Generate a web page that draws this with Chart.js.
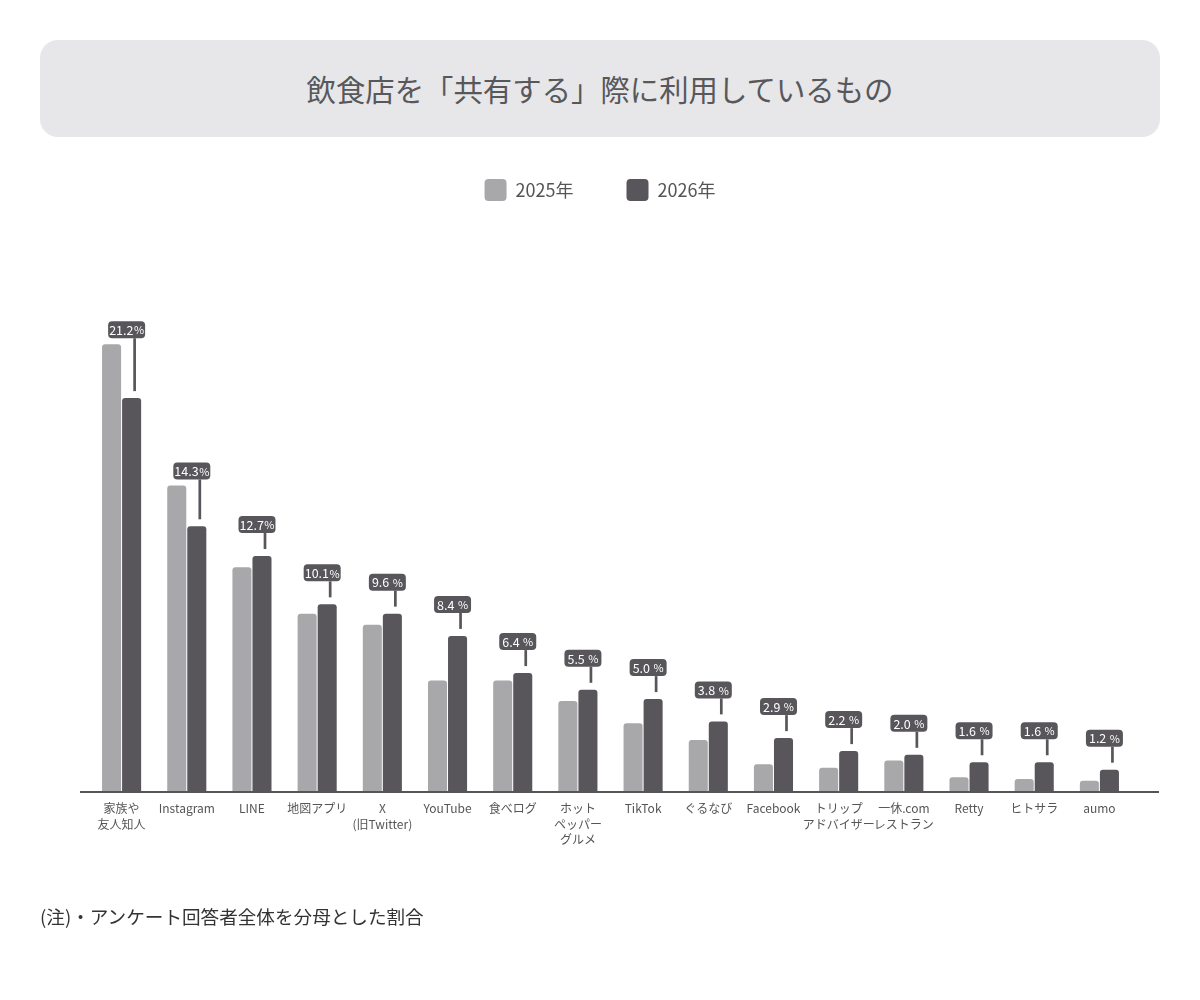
<!DOCTYPE html>
<html><head><meta charset="utf-8">
<script src="https://cdn.jsdelivr.net/npm/chart.js@4.4.1/dist/chart.umd.min.js"></script>
<style>
html,body{margin:0;padding:0;background:#fff;}
body{width:1200px;height:1000px;position:relative;overflow:hidden;font-family:"Noto Sans CJK JP","Noto Sans",sans-serif;}
#wrap{position:absolute;left:0;top:0;width:1200px;height:1000px;}
#title{position:absolute;left:40px;top:40px;width:1120px;height:97px;border-radius:18px;background:#e7e6e9;color:#58585a;font-size:29.4px;line-height:97px;text-align:center;}
#note{position:absolute;left:40px;top:902px;font-size:18.6px;color:#333;line-height:28px;}
</style></head>
<body>
<div id="wrap"><canvas id="c"></canvas></div>
<div id="title">飲食店を「共有する」際に利用しているもの</div>
<div id="note">(注)・アンケート回答者全体を分母とした割合</div>
<script>
const categories = [['家族や','友人知人'],'Instagram','LINE','地図アプリ',['X','(旧Twitter)'],'YouTube','食べログ',['ホット','ペッパー','グルメ'],'TikTok','ぐるなび','Facebook',['トリップ','アドバイザー'],['一休.com','レストラン'],'Retty','ヒトサラ','aumo'];
const seriesNames = ['2025年','2026年'];
const values2025 = [24.1,16.5,12.1,9.6,9.0,6.0,6.0,4.9,3.7,2.8,1.5,1.3,1.7,0.8,0.7,0.6];
const values2026 = [21.2,14.3,12.7,10.1,9.6,8.4,6.4,5.5,5.0,3.8,2.9,2.2,2.0,1.6,1.6,1.2];

const LIGHT = '#a8a7aa';
const DARK = '#58565a';
const FONT = '"Noto Sans CJK JP", "Noto Sans", sans-serif';

const legendCenterPlugin = {
  id: 'legendCenter',
  afterLayout(chart) {
    const lg = chart.legend;
    if (!lg) return;
    const shift = chart.width / 2 - (lg.left + lg.right) / 2;
    lg.left += shift;
    lg.right += shift;
  }
};

const calloutPlugin = {
  id: 'callout',
  afterDatasetsDraw(chart) {
    const {ctx, chartArea} = chart;
    const m0 = chart.getDatasetMeta(0), m1 = chart.getDatasetMeta(1);
    ctx.save();
    ctx.strokeStyle = '#555457';
    ctx.lineWidth = 2;
    ctx.beginPath();
    ctx.moveTo(chartArea.left - 9, chartArea.bottom);
    ctx.lineTo(chartArea.right + 27, chartArea.bottom);
    ctx.stroke();
    values2026.forEach((v, i) => {
      const b1 = m1.data[i], b0 = m0.data[i];
      const boxH = 17, boxW = 37;
      const boxBottom = Math.min(b1.y - 23, b0.y - 6);
      const cx = b1.x - 5;
      ctx.strokeStyle = DARK;
      ctx.lineWidth = 2.7;
      ctx.beginPath();
      ctx.moveTo(b1.x + 3, boxBottom);
      ctx.lineTo(b1.x + 3, b1.y - 7);
      ctx.stroke();
      ctx.fillStyle = DARK;
      ctx.beginPath();
      ctx.roundRect(cx - boxW / 2, boxBottom - boxH, boxW, boxH, 4);
      ctx.fill();
      const num = v.toFixed(1);
      const sep = v >= 10 ? 0.5 : 3.5;
      ctx.font = '12.5px ' + FONT;
      const wn = ctx.measureText(num).width;
      ctx.font = '11px ' + FONT;
      const wp = ctx.measureText('%').width;
      const total = wn + sep + wp;
      const x = cx - total / 2;
      const ty = boxBottom - boxH / 2 + 0.5;
      ctx.fillStyle = '#ffffff';
      ctx.textBaseline = 'middle';
      ctx.textAlign = 'left';
      ctx.font = '12.5px ' + FONT;
      ctx.fillText(num, x, ty);
      ctx.font = '11px ' + FONT;
      ctx.fillText('%', x + wn + sep, ty);
    });
    ctx.restore();
  }
};

new Chart(document.getElementById('c'), {
  type: 'bar',
  data: {
    labels: categories,
    datasets: [
      { label: seriesNames[0], data: values2025, backgroundColor: LIGHT, borderWidth: 0, borderRadius: 3,
        categoryPercentage: 0.615, barPercentage: 0.95 },
      { label: seriesNames[1], data: values2026, backgroundColor: DARK, borderWidth: 0, borderRadius: 3,
        categoryPercentage: 0.615, barPercentage: 0.95 }
    ]
  },
  options: {
    responsive: true,
    maintainAspectRatio: false,
    animation: false,
    layout: { padding: { left: 89, right: 68, top: 126, bottom: 138 } },
    plugins: {
      tooltip: { enabled: false },
      legend: {
        position: 'top',
        align: 'center',
        labels: {
          boxWidth: 22, boxHeight: 22, useBorderRadius: true, borderRadius: 4,
          padding: 53, color: '#555', font: { size: 18, family: FONT }
        }
      }
    },
    scales: {
      x: {
        grid: { display: false, drawTicks: false },
        border: { display: false },
        ticks: { color: '#555', font: { size: 12, family: FONT, lineHeight: 1.33 }, padding: 8,
          autoSkip: false, maxRotation: 0, minRotation: 0 },
        afterFit(scale) { scale.height = 70; }
      },
      y: { display: false, min: 0, max: 31.27 }
    }
  },
  plugins: [legendCenterPlugin, calloutPlugin]
});
</script>
</body></html>
